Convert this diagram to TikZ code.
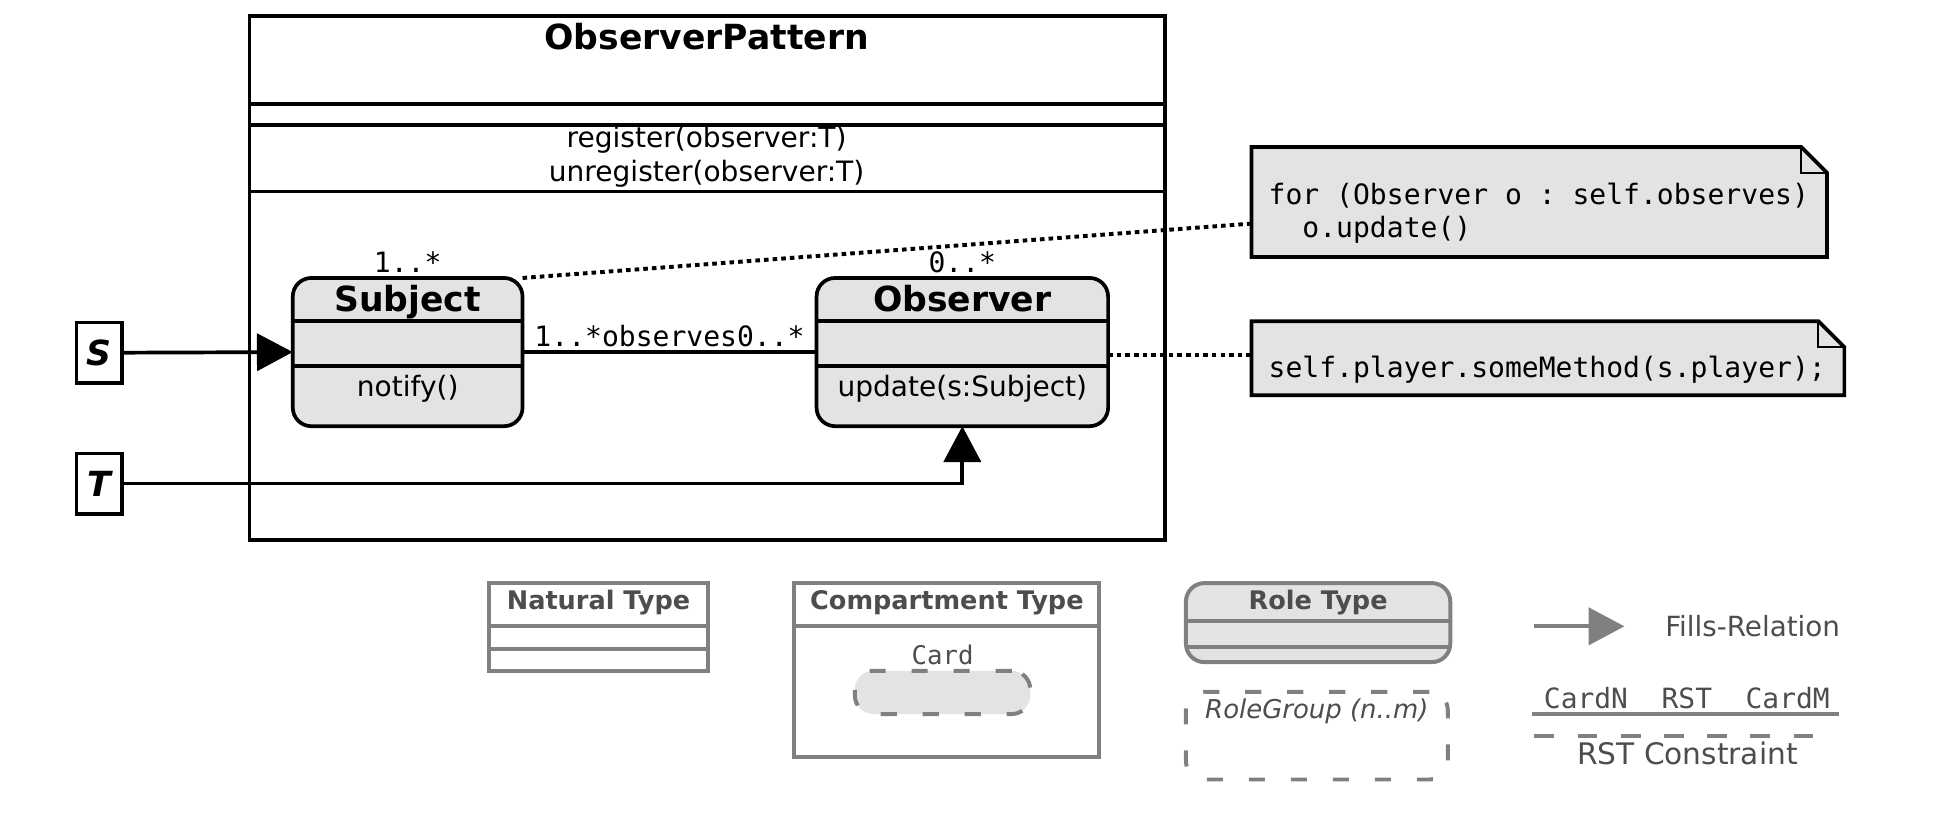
\documentclass[tikz,border=0pt]{standalone}
\usepackage{fontspec}
\setmainfont{DejaVu Sans}
\setmonofont{DejaVu Sans Mono}
\usetikzlibrary{arrows.meta,calc}
\definecolor{rfill}{HTML}{E3E3E3}
\definecolor{lgray}{HTML}{808080}
\definecolor{ltext}{HTML}{4D4D4D}
\newcommand{\fsz}[1]{\fontsize{#1}{#1}\selectfont}
\begin{document}
\begin{tikzpicture}[x=1pt,y=-1pt,
  lbl/.style={inner sep=0pt, outer sep=0pt, text height={0.73*#1pt}, text depth=0pt},
  blk/.style={line width=3pt, line cap=rect},
  boxn/.style={draw, line width=3pt, inner sep=0pt, outer sep=0pt},
  rolebox/.style={boxn, fill=rfill, rounded corners=15pt},
  fills/.style={line width=3pt, -{Triangle[length=29pt,width=30pt]}},
  dotl/.style={line width=3.2pt, dash pattern=on 3.7pt off 3.3pt},
  notebox/.style={inner sep=0pt, outer sep=0pt},
  notel/.style={draw, line width=3pt, fill=rfill, line join=miter},
  lgline/.style={draw=lgray, line width=3.2pt},
  lgbox/.style={draw=lgray, line width=3.2pt, inner sep=0pt, outer sep=0pt},
  lgdash/.style={dash pattern=on 13pt off 21pt},
  rstdash/.style={dash pattern=on 16pt off 19pt},
  ltxt/.style={lbl=#1, text=ltext}
]
\useasboundingbox (0,0) rectangle (1568,672);

% ---- compartment ObserverPattern
\node[boxn, minimum width=741, minimum height=424, anchor=north west] (pkg) at (202,13) {};
\draw[blk] (202,84) -- (943,84);
\draw[blk] (202,101) -- (943,101);
\draw[blk] (202,155) -- (943,155);
\node[lbl=28, font=\bfseries\fsz{28}] (ptitle) at (572,30) {ObserverPattern};
\node[lbl=22.7, font=\fsz{22.7}] (op1) at (572,111) {register(observer:T)};
\node[lbl=22.7, font=\fsz{22.7}] (op2) at (572,139) {unregister(observer:T)};

% ---- Subject role
\node[rolebox, minimum width=186, minimum height=120, anchor=north west] (subj) at (237,225) {};
\draw[blk, line cap=butt] (237,260) -- (423,260);
\draw[blk, line cap=butt] (237,296) -- (423,296);
\node[lbl=28, font=\bfseries\fsz{28}] (subjt) at (330,242) {Subject};
\node[lbl=22.7, font=\fsz{22.7}] (subjm) at (330,313) {notify()};
\node[lbl=22.7, font=\ttfamily\fsz{22.7}] (c1) at (330,212) {1..*};

% ---- Observer role
\node[rolebox, minimum width=236, minimum height=120, anchor=north west] (obs) at (661,225) {};
\draw[blk, line cap=butt] (661,260) -- (897,260);
\draw[blk, line cap=butt] (661,296) -- (897,296);
\node[lbl=28, font=\bfseries\fsz{28}] (obst) at (779,242) {Observer};
\node[lbl=22.7, font=\fsz{22.7}] (obsm) at (779,313) {update(s:Subject)};
\node[lbl=22.7, font=\ttfamily\fsz{22.7}] (c2) at (779,212) {0..*};

% ---- association
\draw[blk, line cap=butt] (subj.east) -- (obs.west);
\node[lbl=22.7, font=\ttfamily\fsz{22.7}] (assoc) at (542,272) {1..*observes0..*};

% ---- naturals S, T
\node[boxn, fill=white, minimum width=37, minimum height=49, font=\bfseries\itshape\fsz{28}] (S) at (80.5,285.5) {S};
\node[boxn, fill=white, minimum width=37, minimum height=49, font=\bfseries\itshape\fsz{28}] (T) at (80.5,391.5) {T};
\draw[fills] (S.east) -- (subj.west);
\draw[fills] (T.east) -| (obs.south);

% ---- notes
\node[notebox, minimum width=466, minimum height=89, anchor=north west] (n1) at (1013,119) {};
\draw[notel] (n1.north west) -- ([xshift=-21pt]n1.north east) -- ([yshift=-21pt]n1.north east) -- (n1.south east) -- (n1.south west) -- cycle;
\draw[line width=1.6pt] ([xshift=-21pt]n1.north east) |- ([yshift=-21pt]n1.north east);
\node[lbl=22.7, anchor=west, font=\ttfamily\fsz{22.7}] (n1a) at (1027,157) {for (Observer o : self.observes)};
\node[lbl=22.7, anchor=west, font=\ttfamily\fsz{22.7}] (n1b) at (1027,184) {\phantom{fo}o.update()};

\node[notebox, minimum width=480, minimum height=60, anchor=north west] (n2) at (1013,260) {};
\draw[notel] (n2.north west) -- ([xshift=-21pt]n2.north east) -- ([yshift=-21pt]n2.north east) -- (n2.south east) -- (n2.south west) -- cycle;
\draw[line width=1.6pt] ([xshift=-21pt]n2.north east) |- ([yshift=-21pt]n2.north east);
\node[lbl=22.7, anchor=west, font=\ttfamily\fsz{22.7}] (n2a) at (1027,297) {self.player.someMethod(s.player);};

\draw[dotl] (subj.north east) -- ([yshift=-17.5pt]n1.west);
\draw[dotl] ([yshift=-2pt]obs.east) -- ([yshift=-2pt]obs.east -| n2.west);

% ---- legend
\node[lgbox, minimum width=177, minimum height=71, anchor=north west] (nat) at (396,472) {};
\draw[lgline] (396,507) -- (573,507);
\draw[lgline] (396,525) -- (573,525);
\node[ltxt=20.7, font=\bfseries\fsz{20.7}] (natt) at (484.5,486) {Natural Type};

\node[lgbox, minimum width=247, minimum height=141, anchor=north west] (comp) at (643,472) {};
\draw[lgline] (643,507) -- (890,507);
\node[ltxt=20.7, font=\bfseries\fsz{20.7}] (compt) at (766.5,486) {Compartment Type};
\node[ltxt=20.8, font=\ttfamily\fsz{20.8}] (card) at (763,530) {Card};
\node[lgbox, lgdash, fill=rfill, rounded corners=15pt, minimum width=142, minimum height=35, anchor=north west] (cardbox) at (692,543) {};

\node[lgbox, fill=rfill, rounded corners=15pt, minimum width=214, minimum height=64, anchor=north west] (rolet) at (960,472) {};
\draw[lgline] (960,503) -- (1174,503);
\draw[lgline] (960,524) -- (1174,524);
\node[ltxt=20.7, font=\bfseries\fsz{20.7}] (rolett) at (1067,486) {Role Type};

\node[lgbox, lgdash, rounded corners=15pt, minimum width=212, minimum height=71, anchor=north west] (rg) at (960,560) {};
\node[ltxt=21, font=\itshape\fsz{21}] (rgt) at (1066,574) {RoleGroup (n..m)};

\coordinate (fa) at (1242,507);
\coordinate (fb) at (1315,507);
\draw[fills, draw=lgray, fill=lgray, line width=3.2pt] (fa) -- (fb);
\node[ltxt=22.5, anchor=west, font=\fsz{22.5}] (fl) at (1348,507) {Fills-Relation};

\node[ltxt=22.6, font=\ttfamily\fsz{22.6}] (rstc) at (1365.5,565) {CardN~~RST~~CardM};
\coordinate (ra) at (1240,578);
\coordinate (rb) at (1489,578);
\draw[lgline] (ra) -- (rb);
\coordinate (da) at (1242,596);
\coordinate (db) at (1472,596);
\draw[lgline, rstdash] (da) -- (db);
\node[ltxt=24, font=\fsz{24}] (rstt) at (1366,610) {RST Constraint};
\end{tikzpicture}
\end{document}
